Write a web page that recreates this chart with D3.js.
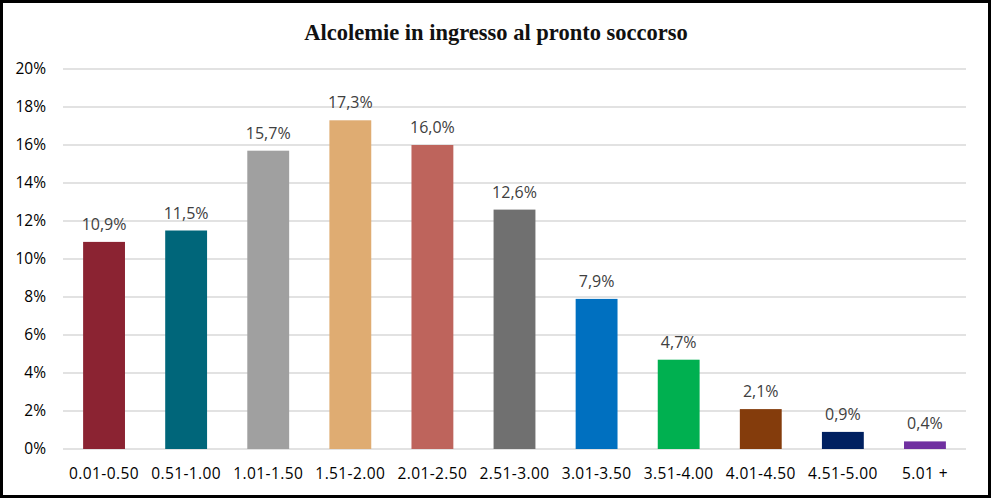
<!DOCTYPE html>
<html>
<head>
<meta charset="utf-8">
<script src="https://cdn.jsdelivr.net/npm/d3@7"></script>
<style>
  body { margin: 0; background: #fff; }
  svg { display: block; }
</style>
</head>
<body>
<svg id="chart" width="991" height="499"></svg>
<script>
// data
var categories = ["0.01-0.50", "0.51-1.00", "1.01-1.50", "1.51-2.00", "2.01-2.50", "2.51-3.00",
                  "3.01-3.50", "3.51-4.00", "4.01-4.50", "4.51-5.00", "5.01 +"];
var values = [10.9, 11.5, 15.7, 17.3, 16.0, 12.6, 7.9, 4.7, 2.1, 0.9, 0.4];
var colors = ["#8B2332", "#00667A", "#A0A0A0", "#DFAC72", "#BE645C", "#707070",
              "#0070C0", "#00B050", "#843C0C", "#002060", "#7030A0"];
var yTicks = [0, 2, 4, 6, 8, 10, 12, 14, 16, 18, 20];

var svg = d3.select("#chart");
var margin = {left: 63, right: 25, top: 69, bottom: 50};
var W = 991, H = 499;

// frame
svg.append("rect")
  .attr("x", 1.5).attr("y", 1.5)
  .attr("width", W - 3).attr("height", H - 4)
  .attr("fill", "#fff").attr("stroke", "#000").attr("stroke-width", 3);

svg.append("text")
  .attr("x", 496).attr("y", 40)
  .attr("text-anchor", "middle")
  .style("font-family", "'Liberation Serif', serif")
  .style("font-weight", "bold")
  .style("font-size", "22.5px")
  .attr("fill", "#111")
  .text("Alcolemie in ingresso al pronto soccorso");

var x = d3.scaleBand().domain(categories).range([margin.left, W - margin.right])
  .paddingInner(0.49).paddingOuter(0.245);
var y = d3.scaleLinear().domain([0, 20]).range([H - margin.bottom, margin.top]);

// gridlines
svg.append("g")
  .selectAll("line")
  .data(yTicks)
  .enter()
  .append("line")
  .attr("x1", margin.left).attr("x2", W - margin.right)
  .attr("y1", d => y(d)).attr("y2", d => y(d))
  .attr("stroke", "#d9d9d9").attr("stroke-width", 1.5);

// y axis labels
var yAxis = d3.axisLeft(y).tickValues(yTicks).tickSize(0).tickPadding(0).tickFormat(d => d + "%");
svg.append("g")
  .attr("transform", "translate(46,0)")
  .call(yAxis)
  .call(g => g.select(".domain").remove())
  .selectAll("text")
  .style("font-family", "'Open Sans', sans-serif")
  .style("font-size", "15.5px")
  .attr("fill", "#000");

// bars
svg.append("g")
  .selectAll("rect")
  .data(values)
  .enter()
  .append("rect")
  .attr("x", (d, i) => x(categories[i]))
  .attr("width", x.bandwidth())
  .attr("y", d => y(d))
  .attr("height", d => y(0) - y(d))
  .attr("fill", (d, i) => colors[i]);

// value labels
svg.append("g")
  .selectAll("text")
  .data(values)
  .enter()
  .append("text")
  .attr("x", (d, i) => x(categories[i]) + x.bandwidth() / 2)
  .attr("y", d => y(d) - 12)
  .attr("text-anchor", "middle")
  .style("font-family", "'Open Sans', sans-serif")
  .style("font-size", "16px")
  .attr("fill", "#404040")
  .text(d => d.toFixed(1).replace(".", ",") + "%");

// x axis labels
var xAxis = d3.axisBottom(x).tickSize(0).tickPadding(0);
svg.append("g")
  .attr("transform", "translate(0," + (H - margin.bottom + 19) + ")")
  .call(xAxis)
  .call(g => g.select(".domain").remove())
  .selectAll("text")
  .style("font-family", "'Open Sans', sans-serif")
  .style("font-size", "15.5px")
  .style("letter-spacing", "0.4px")
  .attr("fill", "#000");
</script>
</body>
</html>
